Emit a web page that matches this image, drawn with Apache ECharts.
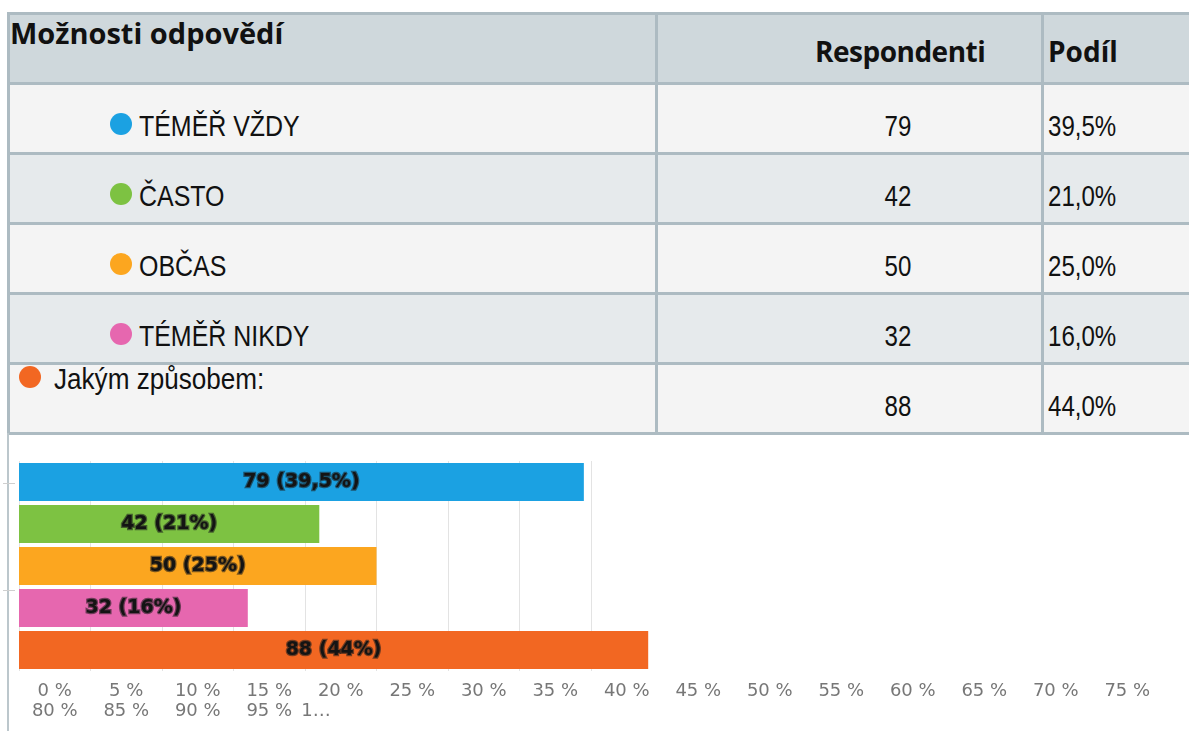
<!DOCTYPE html>
<html><head><meta charset="utf-8">
<script src="https://cdn.jsdelivr.net/npm/echarts@6/dist/echarts.min.js"></script>
<style>
html,body{margin:0;padding:0;background:#fff;width:1189px;height:731px;overflow:hidden;position:relative;}
.abs{position:absolute;}
#chart{position:absolute;left:0;top:0;width:1189px;height:731px;}
.hdr{position:absolute;font-family:'Open Sans',sans-serif;font-weight:700;font-size:28px;line-height:28px;color:#111;white-space:nowrap;}
.cell{position:absolute;font-family:'Liberation Sans',Arial,sans-serif;font-size:29px;line-height:29px;color:#111;white-space:nowrap;transform:scaleX(0.83);transform-origin:left center;}
.num{transform-origin:center center;}
.dot{position:absolute;border-radius:50%;}
</style></head>
<body>
<div id="table"></div>
<div id="chart"></div>
<script>
// ---- data ----
const headers = ['Možnosti odpovědí', 'Respondenti', 'Podíl'];
const categories = ['TÉMĚŘ VŽDY', 'ČASTO', 'OBČAS', 'TÉMĚŘ NIKDY', 'Jakým způsobem:'];
const respondents = [79, 42, 50, 32, 88];
const shares = [39.5, 21.0, 25.0, 16.0, 44.0];
const colors = ['#1ba1e2', '#7dc242', '#fca61f', '#e667af', '#f26722'];
const tickLabelsLine1 = ['0 %', '5 %', '10 %', '15 %', '20 %', '25 %', '30 %', '35 %', '40 %', '45 %', '50 %', '55 %', '60 %', '65 %', '70 %', '75 %'];
const tickLabelsLine2 = ['80 %', '85 %', '90 %', '95 %', '1…'];

// ---- table (HTML) ----
const T = document.getElementById('table');
function box(l, t, w, h, bg) {
  const d = document.createElement('div');
  d.className = 'abs';
  Object.assign(d.style, {left: l + 'px', top: t + 'px', width: w + 'px', height: h + 'px', background: bg});
  T.appendChild(d); return d;
}
function text(cls, str, l, t, extra) {
  const d = document.createElement('div');
  d.className = cls; d.textContent = str;
  d.style.left = l + 'px'; d.style.top = t + 'px';
  if (extra) Object.assign(d.style, extra);
  T.appendChild(d); return d;
}
const ROW0 = 83, ROWH = 70, BORDER = '#adbbc2';
box(7, 13, 1182, 70, '#cfd8dc');
categories.forEach((c, i) => box(7, ROW0 + ROWH * i, 1182, ROWH, i % 2 === 1 ? '#e6eaec' : '#f4f4f4'));
// borders
box(7, 12, 1182, 3, BORDER);
for (let i = 0; i <= categories.length; i++) box(7, ROW0 - 1 + ROWH * i, 1182, 3, BORDER);
box(7, 12, 3, ROW0 + ROWH * categories.length - 10, BORDER);
box(7, ROW0 + ROWH * categories.length, 2, 731, '#bcc7cc');
box(655, 12, 3, ROW0 + ROWH * categories.length - 10, BORDER);
box(1041, 12, 3, ROW0 + ROWH * categories.length - 10, BORDER);
// header text
text('hdr', headers[0], 10, 19, {fontSize: '29px'});
text('hdr', headers[1], 815, 37, {letterSpacing: '-0.5px'});
text('hdr', headers[2], 1048, 37);
function fmtShare(v) { return v.toFixed(1).replace('.', ','); }
categories.forEach((c, i) => {
  const base = 136 + ROWH * i;
  if (i < 4) {
    const dot = document.createElement('div'); dot.className = 'dot';
    Object.assign(dot.style, {left: '110px', top: (113 + ROWH * i) + 'px', width: '22px', height: '22px', background: colors[i]});
    T.appendChild(dot);
    text('cell', c, 139, base - 24.5, {transform: 'scaleX(0.86)'});
  } else {
    const dot = document.createElement('div'); dot.className = 'dot';
    Object.assign(dot.style, {left: '19px', top: '366px', width: '22px', height: '22px', background: colors[i]});
    T.appendChild(dot);
    text('cell', c, 54, 389 - 24.5, {transform: 'scaleX(0.9)'});
  }
  text('cell num', String(respondents[i]), 848, base - 24.5, {width: '100px', textAlign: 'center'});
  text('cell', fmtShare(shares[i]) + '%', 1048, base - 24.5);
});

// ---- chart (ECharts) ----
const chart = echarts.init(document.getElementById('chart'), null, {renderer: 'canvas'});
function fmtLabel(v) { return Number.isInteger(v) ? String(v) : String(v).replace('.', ','); }
const labelFont = {color: '#777', fontSize: 18, fontFamily: 'DejaVu Sans, Verdana, sans-serif'};
const line2Data = tickLabelsLine2.map((t, i) => i === tickLabelsLine2.length - 1 ? {value: t, textStyle: {align: 'right', padding: [0, 10, 0, 0]}} : t);
const option = {
  animation: false,
  backgroundColor: 'transparent',
  grid: [
    {left: 19, top: 461, width: 572, height: 210},
    {left: 19, top: 673, width: 1144, height: 1},
    {left: 19, top: 693, width: 357.5, height: 1},
    {left: 15, top: 483, width: 1, height: 107}
  ],
  xAxis: [
    {gridIndex: 0, type: 'value', min: 0, max: 40, interval: 5,
      axisLine: {show: false}, axisTick: {show: false}, axisLabel: {show: false},
      splitLine: {show: true, lineStyle: {color: '#e3e3e3', width: 1}}},
    {gridIndex: 1, type: 'category', data: tickLabelsLine1, boundaryGap: true,
      axisLine: {show: false}, axisTick: {show: false}, splitLine: {show: false},
      axisLabel: Object.assign({interval: 0, margin: 8}, labelFont)},
    {gridIndex: 2, type: 'category', data: line2Data, boundaryGap: true,
      axisLine: {show: false}, axisTick: {show: false}, splitLine: {show: false},
      axisLabel: Object.assign({interval: 0, margin: 8}, labelFont)},
    {gridIndex: 3, type: 'value', show: false}
  ],
  yAxis: [
    {gridIndex: 0, type: 'category', data: categories, inverse: true, show: false},
    {gridIndex: 1, type: 'value', show: false},
    {gridIndex: 2, type: 'value', show: false},
    {gridIndex: 3, type: 'value', min: 0, max: 1, interval: 1,
      axisLine: {show: false}, axisLabel: {show: false}, splitLine: {show: false},
      axisTick: {show: true, length: 12, lineStyle: {color: '#cfcfcf'}}}
  ],
  series: [{
    type: 'bar', xAxisIndex: 0, yAxisIndex: 0,
    data: shares,
    clip: false,
    barCategoryGap: '9%',
    itemStyle: {color: p => colors[p.dataIndex]},
    label: {
      show: true, position: 'inside',
      formatter: p => respondents[p.dataIndex] + ' (' + fmtLabel(shares[p.dataIndex]) + '%)',
      color: '#141414', fontWeight: 'bold', fontSize: 19,
      fontFamily: 'DejaVu Sans, Verdana, sans-serif',
      textBorderColor: 'rgba(30,30,30,0.6)', textBorderWidth: 2.5
    }
  }]
};
chart.setOption(option);
</script>
</body></html>
